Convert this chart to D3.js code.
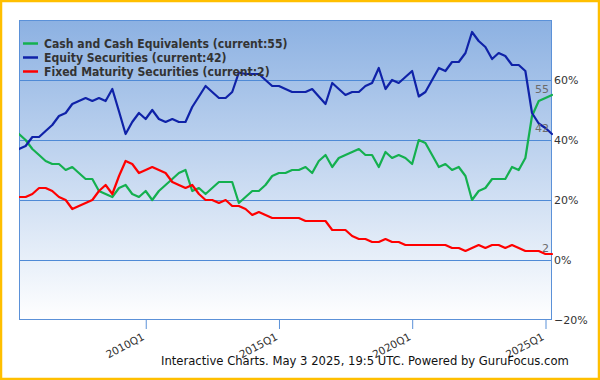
<!DOCTYPE html>
<html>
<head>
<meta charset="utf-8">
<script src="https://cdn.jsdelivr.net/npm/d3@7"></script>
<style>
  html, body { margin: 0; padding: 0; background: #fff; }
  svg { display: block; }
</style>
</head>
<body>
<svg id="chart" width="600" height="380"></svg>
<script>
// ---- Data (quarterly, 2005Q1 .. 2025Q1) ----
const firstYear = 2005;
const quarterCount = 81;
const quarters = d3.range(quarterCount).map(i => (firstYear + Math.floor(i / 4)) + "Q" + (i % 4 + 1));

const cashEquivalents = [42,40,37,35,33,32,32,30,31,29,27,27,23,22,21,24,25,22,21,23,
  20,23,25,27,29,30,23,24,22,24,26,26,26,19,21,23,23,25,28,29,
  29,30,30,31,29,33,35,31,34,35,36,37,35,35,31,36,34,35,34,32,
  40,39,35,31,32,30,31,28,20,23,24,27,27,27,31,30,34,48,53,54,55];

const equitySecurities = [37,38,41,41,43,45,48,49,52,53,54,53,54,53,57,49.5,42,46,49,47,
  50,47,46,47,46,46,51,54.5,58,56,54,54,56,62.5,62,62,62,60,58,58,
  57,56,56,56,57,54.5,52,59,57,55,56,56,58,59,64,57,60,59,61,63,
  54.5,56,60,64,63,66,66,69,76,73,71,67,69,68,65,65,63,49,45.5,44,42];

const fixedMaturity = [21,21,22,24,24,23,21,20,17,18,19,20,23,25,22,28,33,32,29,30,
  31,30,29,26,25,24,25,22,20,20,19,20,18,18,17,15,16,15,14,14,
  14,14,14,13,13,13,13,10,10,10,8,7,7,6,6,7,6,6,5,5,
  5,5,5,5,5,4,4,3,4,5,4,5,5,4,5,4,3,3,3,2,2];

const seriesNames = ["Cash and Cash Equivalents", "Equity Securities", "Fixed Maturity Securities"];
const seriesColors = ["#14b04f", "#0f22a8", "#ff0000"];
const seriesCurrent = [55, 42, 2];

const yTicks = [-20, 0, 20, 40, 60];
const xTickLabels = ["2010Q1", "2015Q1", "2020Q1", "2025Q1"];
const footerText = "Interactive Charts. May 3 2025, 19:5 UTC. Powered by GuruFocus.com";

// ---- Helpers ----
function quarterEnd(label) {
  const y = +label.slice(0, 4), q = +label.slice(5);
  return new Date(Date.UTC(y, q * 3, 0));
}
function quarterStart(label) {
  const y = +label.slice(0, 4), q = +label.slice(5);
  return new Date(Date.UTC(y, (q - 1) * 3, 1));
}

const svg = d3.select("#chart");
const plot = { left: 19, top: 20, right: 552, bottom: 320 };

const dates = quarters.map(quarterEnd);
const x = d3.scaleUtc().domain([dates[0], dates[dates.length - 1]]).range([plot.left, plot.right]);
const y = d3.scaleLinear().domain([-20, 80]).range([plot.bottom, plot.top]);

// Outer border
svg.append("rect").attr("x", 1).attr("y", 1).attr("width", 598).attr("height", 378)
  .attr("fill", "#fff").attr("stroke", "#ffbf00").attr("stroke-width", 2.5);

// Gradient background
const defs = svg.append("defs");
const grad = defs.append("linearGradient").attr("id", "bg").attr("x1", 0).attr("y1", 0).attr("x2", 0).attr("y2", 1);
grad.append("stop").attr("offset", "0%").attr("stop-color", "#8cb1e2");
grad.append("stop").attr("offset", "100%").attr("stop-color", "#ffffff");
defs.append("clipPath").attr("id", "clip").append("rect")
  .attr("x", plot.left).attr("y", plot.top - 2).attr("width", plot.right - plot.left + 1).attr("height", plot.bottom - plot.top + 4);

svg.append("rect").attr("x", plot.left).attr("y", plot.top)
  .attr("width", plot.right - plot.left).attr("height", plot.bottom - plot.top)
  .attr("fill", "url(#bg)");

// Grid lines
svg.append("g").selectAll("line").data(yTicks.filter(d => d > -20)).join("line")
  .attr("x1", plot.left).attr("x2", plot.right)
  .attr("y1", d => Math.round(y(d)) + 0.5).attr("y2", d => Math.round(y(d)) + 0.5)
  .attr("stroke", "#4f8ad6").attr("stroke-width", 1);

// Plot border
svg.append("rect").attr("x", plot.left + 0.5).attr("y", plot.top + 0.5)
  .attr("width", plot.right - plot.left - 1).attr("height", plot.bottom - plot.top - 1)
  .attr("fill", "none").attr("stroke", "#5b91d8").attr("stroke-width", 1);

// Right axis
const yAxis = d3.axisRight(y).tickValues(yTicks).tickSize(0).tickPadding(0)
  .tickFormat(d => (d < 0 ? "\u2212" + Math.abs(d) : d) + "%");
const yg = svg.append("g").attr("transform", `translate(${plot.right + 2},0)`).call(yAxis);
yg.select(".domain").remove();
yg.selectAll("text").attr("font-family", "DejaVu Sans, sans-serif").attr("font-size", 11).attr("fill", "#333");

// Bottom axis
const xTickDates = xTickLabels.map(quarterStart);
const xAxis = d3.axisBottom(x).tickValues(xTickDates).tickSize(9).tickPadding(0)
  .tickFormat((d, i) => xTickLabels[i]);
const xg = svg.append("g").attr("transform", `translate(0,${plot.bottom})`).call(xAxis);
xg.select(".domain").remove();
xg.selectAll(".tick line").attr("stroke", "#5b91d8");
xg.selectAll("text")
  .attr("font-family", "DejaVu Sans, sans-serif").attr("font-size", 10.5).attr("fill", "#333")
  .attr("text-anchor", "end").attr("dy", 0).attr("y", 0)
  .attr("transform", "translate(-1,19) rotate(-28)");

// Lines
const seriesData = [cashEquivalents, equitySecurities, fixedMaturity];
const line = d3.line().x((d, i) => x(dates[i])).y(d => y(d));
const lg = svg.append("g").attr("clip-path", "url(#clip)");
seriesData.forEach((vals, k) => {
  lg.append("path").datum(vals).attr("d", line)
    .attr("fill", "none").attr("stroke", seriesColors[k]).attr("stroke-width", 2.2)
    .attr("stroke-linejoin", "round").attr("stroke-linecap", "round");
});

// Current value labels
seriesData.forEach((vals, k) => {
  svg.append("text")
    .attr("x", plot.right - 3).attr("y", y(vals[vals.length - 1]) - 2.5)
    .attr("text-anchor", "end")
    .attr("font-family", "DejaVu Sans, sans-serif").attr("font-size", 11).attr("fill", "#6b6b6b")
    .text(seriesCurrent[k]);
});

// Legend
const leg = svg.append("g");
seriesNames.forEach((name, k) => {
  const ly = 43.5 + k * 14;
  leg.append("line").attr("x1", 23).attr("x2", 38).attr("y1", ly).attr("y2", ly)
    .attr("stroke", seriesColors[k]).attr("stroke-width", 2.5);
  leg.append("text").attr("x", 44).attr("y", ly + 4.5)
    .attr("font-family", "DejaVu Sans Condensed, DejaVu Sans, sans-serif").attr("font-weight", "bold")
    .attr("font-size", 12.1).attr("fill", "#333")
    .text(`${name} (current:${seriesCurrent[k]})`);
});

// Footer
svg.append("text").attr("x", 161).attr("y", 365)
  .attr("font-family", "DejaVu Sans Condensed, DejaVu Sans, sans-serif").attr("font-size", 12.9).attr("fill", "#111")
  .text(footerText);
</script>
</body>
</html>
